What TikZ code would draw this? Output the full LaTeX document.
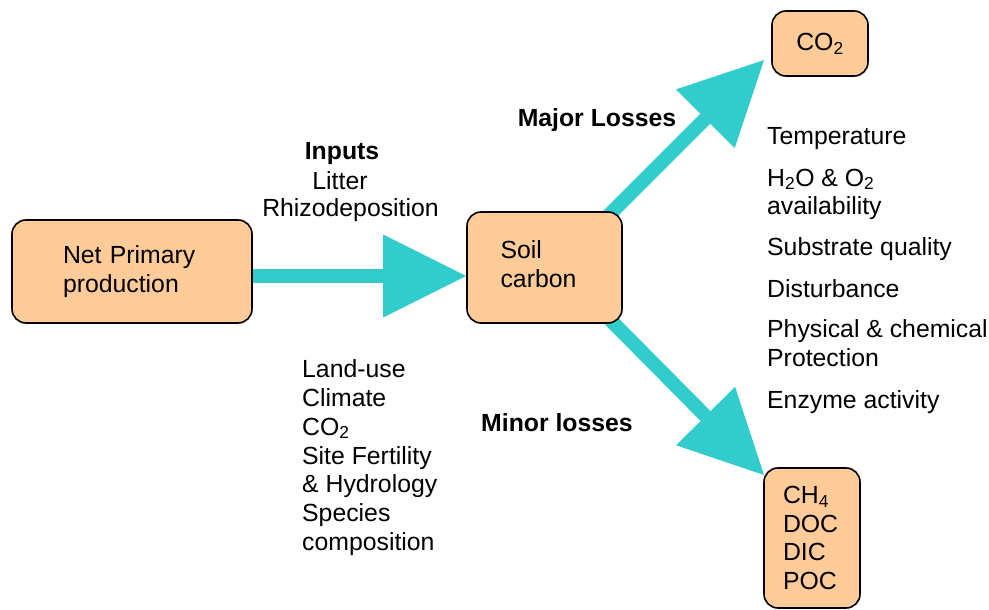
\documentclass[tikz,border=0pt]{standalone}
\usepackage{fontspec}
\setmainfont{Liberation Sans}
\usetikzlibrary{arrows.meta}
\pgfdeclarelayer{bg}
\pgfsetlayers{bg,main}
\definecolor{peach}{HTML}{FFCC99}
\definecolor{flowcyan}{HTML}{33CCCC}
\begin{document}
\begin{tikzpicture}[x=1pt,y=-1pt,
  font=\fontsize{24.8}{28.5}\selectfont,
  box/.style={draw=black, line width=1.6pt, fill=peach, rounded corners=14pt, inner ysep=0pt, align=left},
  flow/.style={draw=flowcyan, line width=14pt, -{Triangle[width=83pt,length=83pt,line width=0pt]}},
  lbl/.style={anchor=base west, inner sep=0pt},
  hd/.style={anchor=base, inner sep=0pt, font=\fontsize{24.8}{28.5}\selectfont\bfseries},
  ctr/.style={anchor=base, inner sep=0pt}]
\useasboundingbox (0,0) rectangle (989,610);

% boxes
\node[box, inner xsep=51pt, text width=138pt, minimum height=103pt] (npp) at (132,271.5) {Net Primary\\production};
\node[draw=black, line width=1.6pt, fill=peach, rounded corners=14pt, inner sep=0pt,
      minimum width=155pt, minimum height=111pt] (soil) at (544.5,267.5)
      {\hspace*{-12pt}\raisebox{4pt}{\begin{tabular}{@{}l@{}}Soil\\carbon\end{tabular}}};
\node[box, inner sep=0pt, minimum width=96pt, minimum height=65pt] (co2) at (820,43.5) {CO\textsubscript{2}};
\node[box, inner xsep=19pt, text width=58pt, minimum height=140pt] (minor) at (812,538) {CH\textsubscript{4}\\DOC\\DIC\\POC};

% arrow end points
\coordinate (upS) at (600,224);
\coordinate (upE) at (764,60);
\coordinate (dnS) at (600,309.5);
\coordinate (dnE) at (764,475);

\begin{pgfonlayer}{bg}
\draw[flow] (npp.east |- 0,276) -- (soil.west |- 0,276);
\draw[flow] (upS) -- (upE);
\draw[flow] (dnS) -- (dnE);
\end{pgfonlayer}

% input labels
\node[hd] (inputs) at (342,159) {Inputs};
\node[ctr] (litter) at (340,189) {Litter};
\node[ctr] (rhizo) at (350.5,216) {Rhizodeposition};

\node[hd] (major) at (597,127) {Major Losses};
\node[hd] (minorl) at (557,431) {Minor losses};

% left list
\node[lbl] (l1) at (302,377) {Land-use};
\node[lbl] (l2) at (302,406) {Climate};
\node[lbl] (l3) at (302,435) {CO\textsubscript{2}};
\node[lbl] (l4) at (302,464) {Site Fertility};
\node[lbl] (l5) at (302,492) {\& Hydrology};
\node[lbl] (l6) at (302,521) {Species};
\node[lbl] (l7) at (302,550) {composition};

% right list
\node[lbl] (r1) at (767,144) {Temperature};
\node[lbl] (r2) at (767,186) {H\textsubscript{2}O \& O\textsubscript{2}};
\node[lbl] (r3) at (767,214) {availability};
\node[lbl] (r4) at (767,255) {Substrate quality};
\node[lbl] (r5) at (767,297) {Disturbance};
\node[lbl] (r6) at (767,337) {Physical \& chemical};
\node[lbl] (r7) at (767,366) {Protection};
\node[lbl] (r8) at (767,408) {Enzyme activity};
\end{tikzpicture}
\end{document}
